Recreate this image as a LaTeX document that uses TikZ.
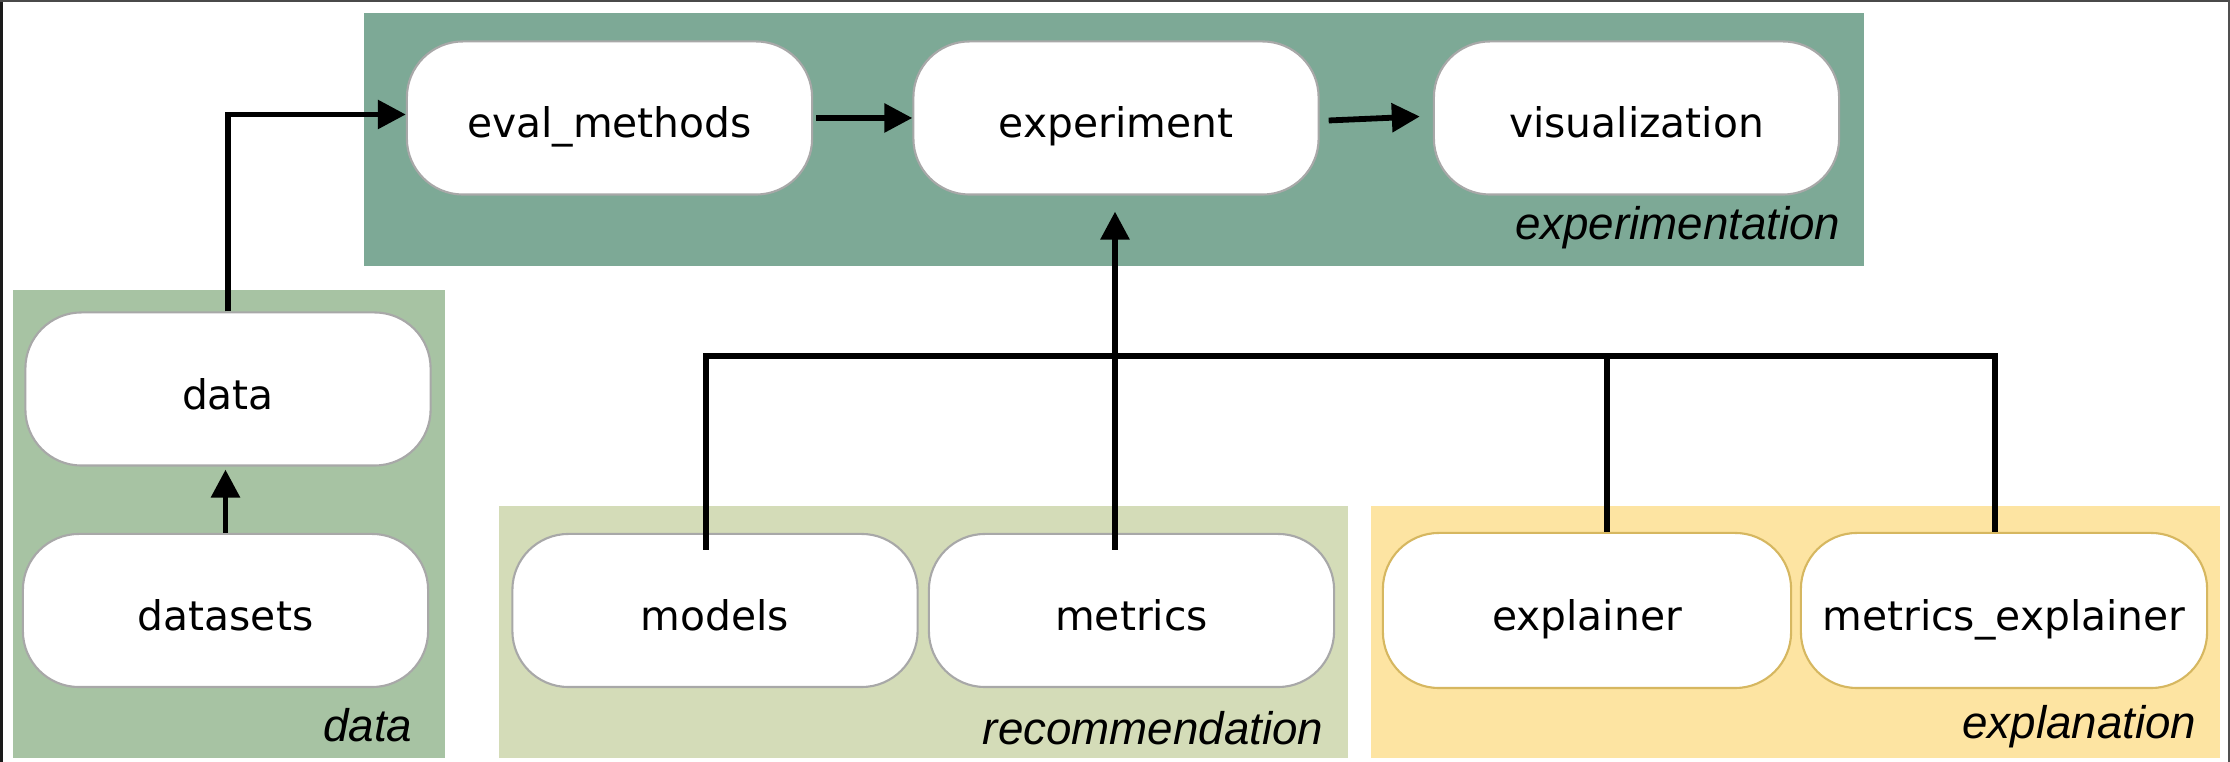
\documentclass[tikz,border=0pt]{standalone}
\usepackage{fontspec}
\setmainfont{DejaVu Sans}
\newfontfamily\labfont{Liberation Sans}
\usetikzlibrary{arrows.meta,calc}
\definecolor{cexp}{HTML}{7DA996}
\definecolor{cdata}{HTML}{A7C3A3}
\definecolor{crec}{HTML}{D4DCB8}
\definecolor{cexl}{HTML}{FDE4A2}
\definecolor{boxgray}{HTML}{A8A8A8}
\definecolor{boxgold}{HTML}{D6B760}
\definecolor{frameL}{HTML}{1A1A1A}
\definecolor{frameT}{HTML}{4A4A4A}
\definecolor{frameR}{HTML}{505050}
\begin{document}
\begin{tikzpicture}[x=0.01cm,y=-0.01cm,
  box/.style={draw=boxgray, line width=0.6pt, fill=white, rounded corners=0.56cm,
    minimum width=4.05cm, minimum height=1.53cm, inner sep=0pt,
    text height=0.4cm, text depth=0pt,
    font=\fontsize{11.6pt}{13pt}\selectfont},
  ybox/.style={box, draw=boxgold},
  lab/.style={anchor=base east, inner sep=0pt, font=\labfont\itshape\fontsize{13pt}{15pt}\selectfont},
  conn/.style={line width=1.65pt, black},
  arr/.style={conn, -{Triangle[length=0.28cm,width=0.28cm]}}]
\useasboundingbox (0,0) rectangle (2230,762);
\fill[white] (0,0) rectangle (2230,762);
% frame
\fill[frameL] (0,0) rectangle (3.3,762);
\fill[frameT] (0,0) rectangle (2230,1.8);
\fill[frameR] (2227.5,0) rectangle (2230,762);
% clusters
\fill[cexp] (364,13) rectangle (1864,266);
\fill[cdata] (13,290) rectangle (445,758);
\fill[crec] (499,506) rectangle (1348,758);
\fill[cexl] (1371,506) rectangle (2220,758);
% cluster labels
\node[lab] (lexp) at (1841,240) {experimentation};
\node[lab] (ldata) at (413,742) {data};
\node[lab] (lrec) at (1324,745) {recommendation};
\node[lab] (lexl) at (2197,739) {explanation};
% nodes
\node[box] (eval) at (609.5,118) {eval\_methods};
\node[box] (exp) at (1116,118) {experiment};
\node[box] (vis) at (1636.5,118) {visualization};
\node[box] (data) at (228,389) {data};
\node[box] (datasets) at (225.5,610.5) {datasets};
\node[box] (models) at (715,610.5) {models};
\node[box] (metrics) at (1131.5,610.5) {metrics};
\node[ybox, minimum width=4.08cm, minimum height=1.55cm] (explainer) at (1587,610.5) {explainer};
\node[ybox, minimum width=4.06cm, minimum height=1.55cm] (mexp) at (2004,610.5) {metrics\_explainer};
% connectors
\coordinate (busy) at (0,356);
\draw[arr] (data.north) |- ($(eval.west)+(0,-3.5)$);
\draw[arr] ($(eval.east)+(3,0)$) -- (exp.west);
\draw[arr] ($(exp.east)+(9,2.5)$) -- ($(vis.west)+(-13,-1.5)$);
\draw[arr] (datasets.north) -- ($(datasets.north |- data.south)+(0,3)$);
\coordinate (mtop) at ($(models.north)+(-9,0)$);
\coordinate (xtop) at ($(mexp.north)+(-9,0)$);
\draw[conn, line join=miter] ($(mtop)+(0,17)$) -- (mtop |- busy) -- (xtop |- busy) -- (xtop);
\coordinate (etop) at ($(explainer.north)+(20,0)$);
\draw[conn] (etop) -- (etop |- busy);
\coordinate (ktop) at ($(metrics.north)+(-16.5,0)$);
\draw[arr] ($(ktop)+(0,17)$) -- ($(ktop |- exp.south)+(0,16)$);
\end{tikzpicture}
\end{document}
